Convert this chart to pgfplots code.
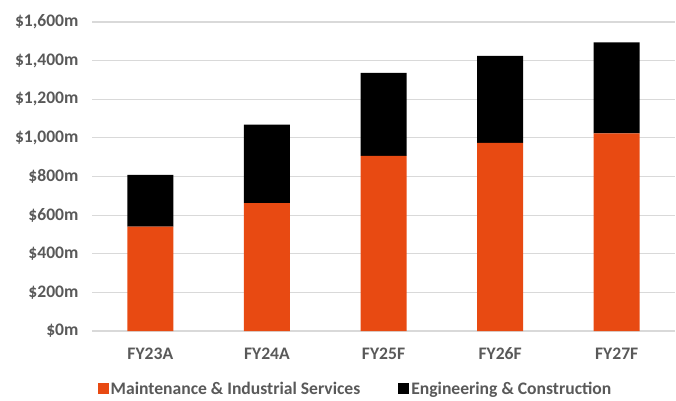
\documentclass[border=0pt]{standalone}
\usepackage{pgfplots}
\pgfplotsset{compat=1.18}
\usepackage{fontspec}
\setmainfont{Carlito}
\definecolor{mis}{HTML}{E84A12}
\definecolor{txt}{HTML}{595959}
\definecolor{grd}{HTML}{D9D9D9}
\begin{document}
\begin{tikzpicture}
\useasboundingbox (0,0) rectangle (676pt,400pt);
\begin{axis}[
  at={(92pt,69pt)}, anchor=south west,
  scale only axis, width=583pt, height=309pt,
  ybar stacked, bar width=46pt,
  xmin=-0.5, xmax=4.5, ymin=0, ymax=1600,
  xtick={0,1,2,3,4},
  xticklabels={FY23A,FY24A,FY25F,FY26F,FY27F},
  ytick={0,200,400,600,800,1000,1200,1400,1600},
  yticklabels={\$0m,\$200m,\$400m,\$600m,\$800m,{\$1,000m},{\$1,200m},{\$1,400m},{\$1,600m}},
  major tick length=0pt,
  axis line style={draw=none},
  ymajorgrids, grid style={grd, line width=1.2pt},
  tick label style={font=\fontsize{17.6}{20}\selectfont\bfseries, text=txt},
  yticklabel style={xshift=-10pt},
  xticklabel style={yshift=-13pt},
  legend style={at={(axis description cs:0.452,-0.188)}, anchor=center, draw=none,
    legend columns=2, font=\fontsize{17.6}{20}\selectfont\bfseries, text=txt,
    inner sep=1pt,
    /tikz/every even column/.append style={column sep=36pt}},
  legend image code/.code={\fill[#1] (0pt,-5pt) rectangle (11pt,6pt);},
]
\addplot[fill=mis, draw=none] coordinates {(0,541) (1,662) (2,907) (3,974) (4,1023)};
\addplot[fill=black, draw=none] coordinates {(0,268) (1,406) (2,429) (3,450) (4,472)};
\legend{Maintenance \& Industrial Services, Engineering \& Construction}
\end{axis}
\end{tikzpicture}
\end{document}
